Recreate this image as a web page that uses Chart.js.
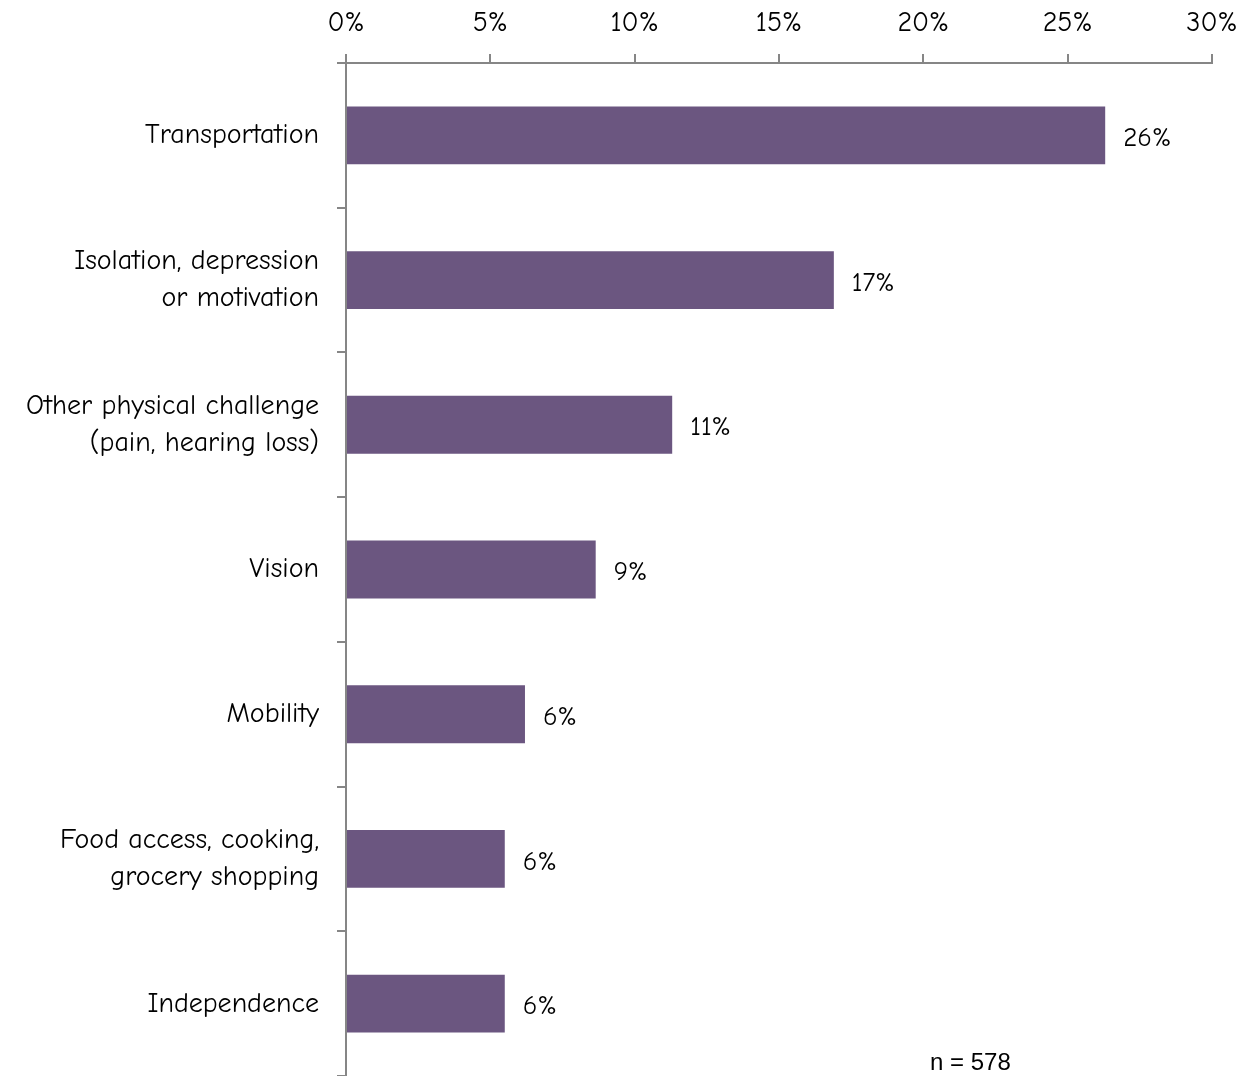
<!DOCTYPE html>
<html>
<head>
<meta charset="utf-8">
<script src="https://cdn.jsdelivr.net/npm/chart.js@4"></script>
<style>
  html, body { margin: 0; padding: 0; background: #fff; }
  .wrap { width: 1252px; height: 1076px; }
</style>
</head>
<body>
<div class="wrap"><canvas id="chart" width="1252" height="1076"></canvas></div>
<script>
var categories = [
    'Transportation',
    ['Isolation, depression', 'or motivation'],
    ['Other physical challenge', '(pain, hearing loss)'],
    'Vision',
    'Mobility',
    ['Food access, cooking,', 'grocery shopping'],
    'Independence'
];
var values = [26.3, 16.9, 11.3, 8.65, 6.2, 5.5, 5.5];
var valueLabels = ['26%', '17%', '11%', '9%', '6%', '6%', '6%'];
var tickValues = [0, 5, 10, 15, 20, 25, 30];
var sampleNote = 'n = 578';

var FONT = "'Comic Sans MS', 'Comic Neue', 'Lato', sans-serif";
var AXIS = '#868686';

var barLabels = {
    id: 'barLabels',
    afterDatasetsDraw: function (chart) {
        var ctx = chart.ctx;
        var meta = chart.getDatasetMeta(0);
        ctx.save();
        ctx.font = '27px ' + FONT;
        ctx.fillStyle = '#000';
        ctx.textAlign = 'left';
        ctx.textBaseline = 'middle';
        meta.data.forEach(function (bar, i) {
            ctx.fillText(valueLabels[i], bar.x + 18, bar.y + 3);
        });
        // sample size note, plain sans like the original
        ctx.font = "24px 'Liberation Sans', Arial, sans-serif";
        ctx.fillText(sampleNote, chart.chartArea.left + 584, chart.chartArea.bottom - 13);
        ctx.restore();
    }
};

new Chart(document.getElementById('chart'), {
    type: 'bar',
    data: {
        labels: categories,
        datasets: [{
            data: values,
            backgroundColor: '#6B5680',
            borderWidth: 0,
            barPercentage: 0.4,
            categoryPercentage: 1
        }]
    },
    options: {
        indexAxis: 'y',
        responsive: false,
        animation: false,
        layout: { padding: { top: 0, right: 40, bottom: 0, left: 0 } },
        plugins: {
            legend: { display: false },
            tooltip: { enabled: false }
        },
        scales: {
            x: {
                position: 'top',
                min: 0,
                max: 30,
                afterBuildTicks: function (scale) {
                    scale.ticks = tickValues.map(function (v) { return { value: v }; });
                },
                afterFit: function (scale) {
                    scale.height = 63;
                    scale.paddingLeft = 0;
                    scale.paddingRight = 0;
                },
                border: { display: true, color: AXIS, width: 2 },
                grid: {
                    drawOnChartArea: false,
                    drawTicks: true,
                    tickLength: 9,
                    color: AXIS,
                    lineWidth: 2
                },
                ticks: {
                    color: '#000',
                    padding: 14,
                    font: { family: FONT, size: 28 },
                    callback: function (v) { return v + '%'; }
                }
            },
            y: {
                afterFit: function (scale) {
                    scale.width = 346;
                    scale.paddingTop = 0;
                    scale.paddingBottom = 0;
                },
                border: { display: true, color: AXIS, width: 2 },
                grid: {
                    offset: true,
                    drawOnChartArea: false,
                    drawTicks: true,
                    tickLength: 9,
                    color: AXIS,
                    lineWidth: 2
                },
                ticks: {
                    color: '#000',
                    padding: 18,
                    font: { family: FONT, size: 28, lineHeight: 1.32 }
                }
            }
        }
    },
    plugins: [barLabels]
});
</script>
</body>
</html>
